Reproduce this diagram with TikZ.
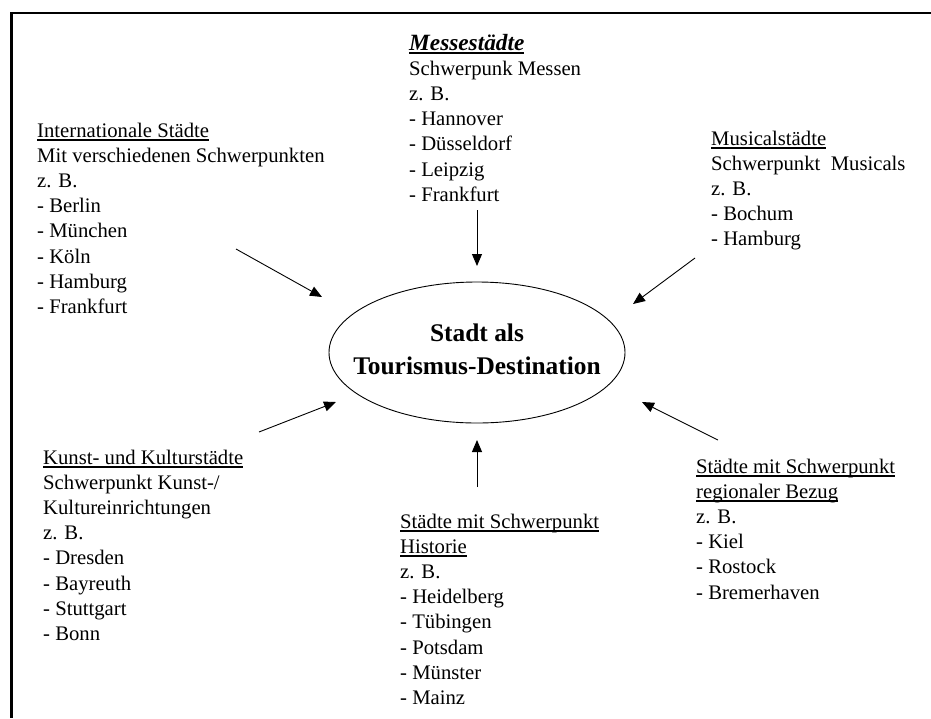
\documentclass[tikz,border=0pt]{standalone}
\usepackage{fontspec}
\setmainfont{Liberation Serif}
\usetikzlibrary{arrows.meta,shapes.geometric}
\newcommand\myul[1]{\setbox0\hbox{#1}\rlap{\rule[-3.6pt]{\wd0}{1.5pt}}\box0}
\newcommand\myulb[1]{\setbox0\hbox{#1}\rlap{\rule[-4pt]{\wd0}{2pt}}\box0}
\tikzset{
  block/.style={anchor=base west, inner sep=0pt, font=\fontsize{20.7}{25.2}\selectfont},
  arr/.style={line width=0.9pt, -{Triangle[length=12pt,width=10pt]}},
  center/.style={draw, ellipse, line width=0.9pt, minimum width=296pt, minimum height=141pt, inner sep=0pt},
  ctext/.style={align=center, inner sep=0pt, font=\fontsize{25.4}{33}\selectfont\bfseries},
}
\begin{document}
\begin{tikzpicture}[x=1pt,y=-1pt]
\useasboundingbox (0,0) rectangle (931,718);
\draw[line width=2.6pt, line join=miter] (931,13) -- (11.3,13) -- (11.3,718);

\node[center] (c) at (477,352.5) {};
\node[ctext] (ct) at (477,349) {Stadt als\\Tourismus-Destination};

\node[block] (intl) at (37,137) {\begin{tabular}[t]{@{}l@{}}\myul{Internationale Städte}\\Mit verschiedenen Schwerpunkten\\z. B.\\- Berlin\\- München\\- Köln\\- Hamburg\\- Frankfurt\end{tabular}};

\node[block] (messe) at (409,50) {\begin{tabular}[t]{@{}l@{}}\myulb{\fontsize{23.3}{25.2}\selectfont\bfseries\itshape Messestädte}\\Schwerpunk Messen\\z. B.\\- Hannover\\- Düsseldorf\\- Leipzig\\- Frankfurt\end{tabular}};

\node[block] (musical) at (711,145) {\begin{tabular}[t]{@{}l@{}}\myul{Musicalstädte}\\Schwerpunkt\ \ Musicals\\z. B.\\- Bochum\\- Hamburg\end{tabular}};

\node[block] (kunst) at (43,464) {\begin{tabular}[t]{@{}l@{}}\myul{Kunst- und Kulturstädte}\\Schwerpunkt Kunst-/\\Kultureinrichtungen\\z. B.\\- Dresden\\- Bayreuth\\- Stuttgart\\- Bonn\end{tabular}};

\node[block] (hist) at (400,528) {\begin{tabular}[t]{@{}l@{}}\myul{Städte mit Schwerpunkt}\\\myul{Historie}\\z. B.\\- Heidelberg\\- Tübingen\\- Potsdam\\- Münster\\- Mainz\end{tabular}};

\node[block] (regio) at (696,473) {\begin{tabular}[t]{@{}l@{}}\myul{Städte mit Schwerpunkt}\\\myul{regionaler Bezug}\\z. B.\\- Kiel\\- Rostock\\- Bremerhaven\end{tabular}};

\coordinate (intlS) at (236,249);   \coordinate (intlE) at (322,297);
\coordinate (messeS) at (477,210);  \coordinate (messeE) at (477,266);
\coordinate (musS) at (695,258);    \coordinate (musE) at (633,304);
\coordinate (kunstS) at (259,432);  \coordinate (kunstE) at (336,402);
\coordinate (histS) at (477,487);   \coordinate (histE) at (477,440);
\coordinate (regS) at (718,440);    \coordinate (regE) at (642,402);

\draw[arr] (intlS) -- (intlE);
\draw[arr] (messeS) -- (messeE);
\draw[arr] (musS) -- (musE);
\draw[arr] (kunstS) -- (kunstE);
\draw[arr] (histS) -- (histE);
\draw[arr] (regS) -- (regE);
\end{tikzpicture}
\end{document}
